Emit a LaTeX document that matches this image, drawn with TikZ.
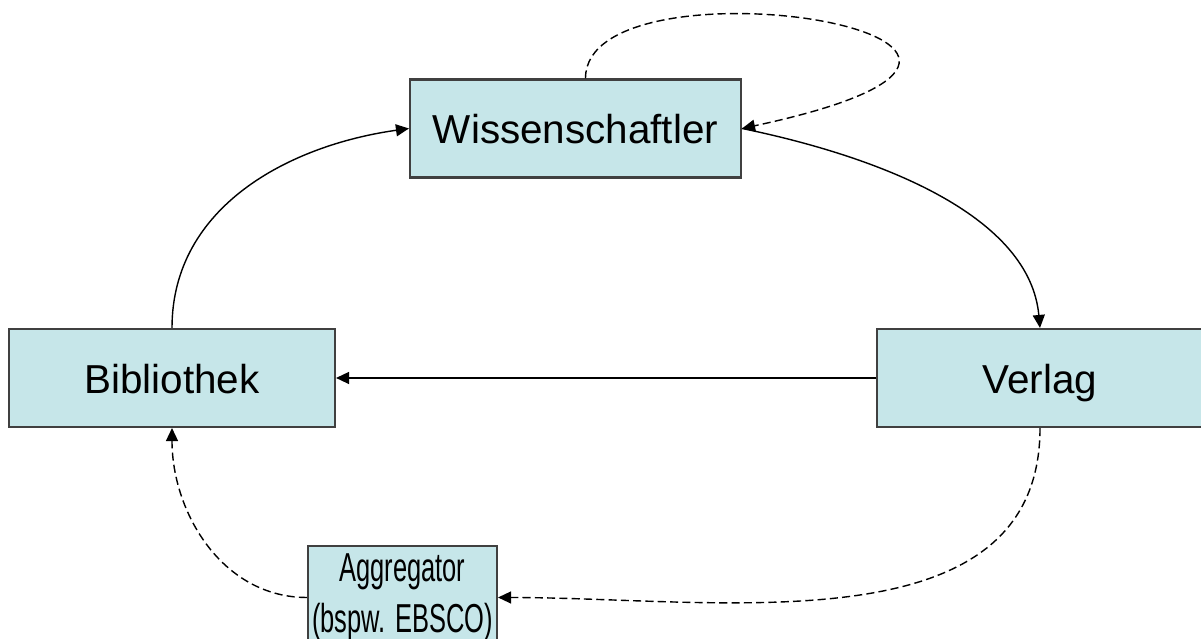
\documentclass[tikz,border=0pt]{standalone}
\usepackage{fontspec}
\setmainfont{Liberation Sans}
\usepackage{graphicx}
\usetikzlibrary{arrows.meta,positioning}
\definecolor{boxfill}{RGB}{198,230,233}
\begin{document}
\begin{tikzpicture}[
        box/.style={rectangle, draw=black!75, line width=0.6pt, fill=boxfill,
            minimum width=3.26cm, minimum height=0.98cm, inner sep=0pt,
            text height=0.31cm, text depth=0cm,
            font=\fontsize{11.5}{14.5}\selectfont},
        flow/.style={line width=0.4pt, -{Triangle[length=0.13cm, width=0.12cm]}},
        weak/.style={flow, dash pattern=on 2.3pt off 1.2pt},
    ]
        \useasboundingbox (0,0) rectangle (12.01,6.39);

        % Boxes
        \node[box, minimum width=3.31cm] (wiss) at (5.755,5.105) {Wissenschaftler};
        \node[box] (bib) at (1.72,2.61) {Bibliothek};
        \node[box] (verlag) at (10.40,2.61) {Verlag};
        \node[box, minimum width=1.89cm, minimum height=1.03cm, align=center,
            text height=, text depth=]
            (aggr) at (4.025,0.415)
            {\scalebox{0.63}[1]{Aggregator}\\\scalebox{0.63}[1]{(bspw. EBSCO)}};

        % Solid flows
        \draw[flow] (bib.north) to[out=90, in=188] (wiss.west);
        \draw[flow] (wiss.east) .. controls (8.9,4.8) and (10.3,4.2) .. (verlag.north);
        \draw[flow] (verlag.west) -- (bib.east);

        % Dashed flows
        \draw[weak] ([xshift=0.1cm]wiss.north) .. controls (5.85,6.9) and (11.6,6.0) .. (wiss.east);
        \draw[weak] (verlag.south) to[out=-90, in=0] (aggr.east);
        \draw[weak] (aggr.west) to[out=180, in=-90] (bib.south);
    \end{tikzpicture}
\end{document}
